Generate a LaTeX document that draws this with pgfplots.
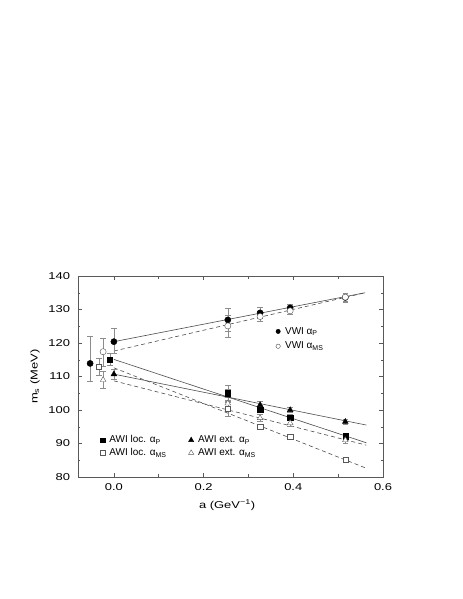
\documentclass[border=0pt]{standalone}
\usepackage{fontspec}
\setmainfont{Liberation Sans}
\newfontfamily\widefont{Liberation Sans}[FakeStretch=1.3]
\usepackage{pgfplots}
\pgfplotsset{compat=1.18}

% frame shared by the data axis and the overlay axis for the second legend
\pgfplotsset{
    msbox/.style = {
        at = {(78bp,122bp)}, anchor = south west,
        scale only axis, width = 305bp, height = 201bp,
        xmin = -0.08, xmax = 0.6, ymin = 80, ymax = 140,
    },
    pts/.style = {
        only marks,
        error bars/.cd,
        y dir = both, y explicit,
        error bar style = {black!45, line width = 0.5bp},
        error mark options = {rotate = 90, mark size = 2.8bp, black!45, line width = 0.5bp},
        /pgfplots/.cd
    },
    fit/.style = {no marks, black!70, line width = 0.6bp},
    fitd/.style = {fit, dash pattern = on 4bp off 3bp},
    leg/.style = {
        draw = none, fill = none, inner sep = 0pt, outer sep = 0pt,
        font = \fontsize{10}{12}\selectfont,
    },
    legend image code/.code = {
        \draw[#1] plot coordinates {(0bp,0bp)};
        \path[draw = none, fill = none] (-2.5bp,0bp) -- (5bp,0bp);
    },
}

\newcommand{\aP}{α\textsubscript{\scriptsize P}}
\newcommand{\aMS}{α\textsubscript{\scriptsize MS}}

\begin{document}
\begin{tikzpicture}
    \path[use as bounding box] (0,0) rectangle (463bp,599bp);

    \begin{axis}[
        msbox,
        axis line style = {black!65, line width = 0.7bp},
        tick style = {black!65, line width = 0.5bp},
        tick align = inside,
        major tick length = 4bp, minor tick length = 2.5bp,
        xtick = {0, 0.2, 0.4, 0.6}, minor xtick = {-0.1, 0.1, 0.3, 0.5},
        ytick = {80, 90, ..., 140}, minor ytick = {85, 95, ..., 135},
        /pgf/number format/assume math mode = true,
        ticklabel style = {font = \widefont\fontsize{10}{12}\selectfont},
        xticklabel style = {yshift = -3bp, /pgf/number format/.cd, fixed, fixed zerofill, precision = 1},
        yticklabel style = {xshift = -4.5bp},
        label style = {font = \widefont\fontsize{10}{12}\selectfont},
        xlabel = {a (GeV\textsuperscript{\scriptsize −1})},
        ylabel = {m\textsubscript{\scriptsize s} (MeV)},
        xlabel style = {at = {(axis description cs:0.489,-0.139)}, anchor = center},
        ylabel style = {at = {(axis description cs:-0.141,0.5)}, anchor = center},
        legend columns = 2,
        legend cell align = left,
        legend style = {leg, at = {(axis description cs:0.072,0.215)}, anchor = north west,
            /tikz/every even column/.style = {column sep = 20bp}},
    ]
        % fit lines
        \addplot[fit, forget plot] coordinates {(0,120.4) (0.56,135.0)};
        \addplot[fitd, forget plot] coordinates {(0,117.6) (0.56,135.0)};
        \addplot[fit, forget plot] coordinates {(0,115.1) (0.563,90.2)};
        \addplot[fitd, forget plot] coordinates {(0,112.6) (0.563,82.6)};
        \addplot[fit, forget plot] coordinates {(0,110.7) (0.563,95.5)};
        \addplot[fitd, forget plot] coordinates {(0,108.7) (0.563,89.5)};

        % VWI alpha_P (filled circles)
        \addplot[pts, mark = *, mark size = 3.1bp, mark options = {draw = black, fill = black}, forget plot]
            table[x = x, y = y, y error plus = ep, y error minus = em] {
            x      y      ep   em
            -0.053 113.9  8.2  5.3
            0.0    120.4  4.0  3.5
            0.254  126.9  3.5  3.5
            0.326  129.0  1.6  1.6
            0.393  130.5  1.1  1.1
            0.516  133.6  1.3  1.3
        };
        % VWI alpha_MS (open circles)
        \addplot[pts, mark = *, mark size = 3.1bp, mark options = {draw = black!70, fill = white}, forget plot]
            table[x = x, y = y, y error plus = ep, y error minus = em] {
            x      y      ep   em
            -0.024 117.4  4.1  4.3
            0.254  125.1  3.3  3.3
            0.326  127.9  1.5  1.5
            0.393  129.6  1.0  1.0
            0.516  133.7  1.3  1.3
        };

        % AWI loc. alpha_P (filled squares)
        \addplot[pts, mark = square*, mark size = 2.6bp, mark options = {draw = black, fill = black}, forget plot]
            table[x = x, y = y, y error plus = ep, y error minus = em] {
            x      y      ep   em
            -0.009 115.1  1.8  1.8
            0.254  105.0  2.5  2.5
            0.326  100.2  1.0  1.0
            0.393  97.8   1.0  1.0
            0.516  92.2   0.8  0.8
        };
        % AWI ext. alpha_P (filled triangles)
        \addplot[pts, mark = triangle*, mark size = 3.3bp, mark options = {draw = black, fill = black}, forget plot]
            table[x = x, y = y, y error plus = ep, y error minus = em] {
            x      y      ep   em
            0.0    110.7  1.5  1.5
            0.254  104.3  2.0  2.0
            0.326  101.5  1.0  1.0
            0.393  100.0  0.8  0.8
            0.516  96.5   0.8  0.8
        };
        % AWI loc. alpha_MS (open squares)
        \addplot[pts, mark = square*, mark size = 2.6bp, mark options = {draw = black!65, fill = white}, forget plot]
            table[x = x, y = y, y error plus = ep, y error minus = em] {
            x      y      ep   em
            -0.033 112.9  2.5  2.5
            0.254  100.5  2.5  2.5
            0.326  95.0   0.8  0.8
            0.393  92.0   0.6  0.6
            0.516  85.1   0.6  0.6
        };
        % AWI ext. alpha_MS (open triangles)
        \addplot[pts, mark = triangle*, mark size = 3.3bp, mark options = {draw = black!65, fill = white}, forget plot]
            table[x = x, y = y, y error plus = ep, y error minus = em] {
            x      y      ep   em
            -0.024 109.0  2.5  2.5
            0.254  102.0  2.5  2.5
            0.326  97.6   1.0  1.0
            0.393  96.1   1.0  1.0
            0.516  91.0   0.8  0.8
        };

        \addlegendimage{only marks, mark = square*, mark size = 2.4bp, mark options = {draw = black, fill = black}}
        \addlegendentry{AWI loc. \aP}
        \addlegendimage{only marks, mark = triangle*, mark size = 3bp, mark options = {draw = black, fill = black}}
        \addlegendentry{AWI ext. \aP}
        \addlegendimage{only marks, mark = square*, mark size = 2.4bp, mark options = {draw = black!65, fill = white}}
        \addlegendentry{AWI loc. \aMS}
        \addlegendimage{only marks, mark = triangle*, mark size = 3bp, mark options = {draw = black!65, fill = white}}
        \addlegendentry{AWI ext. \aMS}
    \end{axis}

    % second legend (VWI), drawn by an empty overlay axis
    \begin{axis}[
        msbox, hide axis,
        legend cell align = left,
        legend style = {leg, at = {(axis description cs:0.648,0.755)}, anchor = north west,
            row sep = 2.5bp},
    ]
        \addlegendimage{only marks, mark = *, mark size = 2.2bp, mark options = {draw = black, fill = black}}
        \addlegendentry{VWI \aP}
        \addlegendimage{only marks, mark = *, mark size = 2.2bp, mark options = {draw = black!70, fill = white}}
        \addlegendentry{VWI \aMS}
    \end{axis}
\end{tikzpicture}
\end{document}
